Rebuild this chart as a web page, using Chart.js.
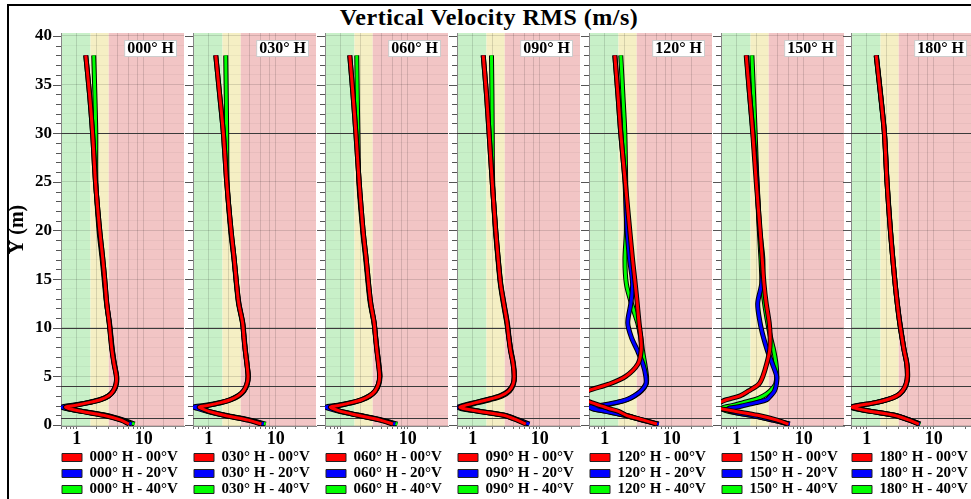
<!DOCTYPE html>
<html>
<head>
<meta charset="utf-8">
<script src="https://cdn.jsdelivr.net/npm/chart.js@4.4.1/dist/chart.umd.min.js"></script>
<style>
  body { margin: 0; background: #fff; width: 971px; height: 499px; overflow: hidden; position: relative; }
  #frame { position: absolute; left: 7px; top: 4px; width: 1000px; height: 540px; border: 2px solid #000; }
  #title { position: absolute; left: 0; top: 5px; width: 978px; text-align: center;
           font: bold 24px "Liberation Serif"; letter-spacing: 0.5px; line-height: 1; color: #000; }
  canvas { position: absolute; }
</style>
</head>
<body>
<div id="frame"></div>
<div id="title">Vertical Velocity RMS (m/s)</div>
<div id="panels"></div>
<script>
// headings and series names
const panelNames = ['000', '030', '060', '090', '120', '150', '180'];
const verticals = ['00', '20', '40'];
const seriesColors = ['#ff0000', '#0000ff', '#00ff00'];

// heights (m) where each curve was read
const yLevels = [0.1, 0.5, 1.0, 1.4, 1.7, 1.85, 2.0, 2.3, 2.6, 3.0, 3.5, 4.2, 5, 6.3, 7.7, 9, 10.5, 12.5, 14.5, 17, 20, 25, 30, 34, 38];

// ticks and reference values
const yTicks = [0, 1, 2, 3, 4, 5, 6, 7, 8, 9, 10, 11, 12, 13, 14, 15, 16, 17, 18, 19, 20,
                21, 22, 23, 24, 25, 26, 27, 28, 29, 30, 31, 32, 33, 34, 35, 36, 37, 38, 39, 40];
const xTicks = [0.6, 0.7, 0.8, 0.9, 1, 2, 3, 4, 5, 6, 7, 8, 9, 10, 20, 30];
const xGridAt = [1, 2, 4, 6, 8, 10, 20];
const xLabels = [1, 10];
const refLines = [0.7, 4, 10, 30];
const bandLimits = [1.6, 3];

// RMS values (m/s) - one array per heading / vertical angle
const h000_v00 = [6.0, 4.6, 2.5, 1.2, 0.75, 0.68, 0.93, 1.5, 2.25, 3.0, 3.5, 3.85, 3.9, 3.6, 3.35, 3.2, 3.05, 2.8, 2.65, 2.45, 2.2, 1.9, 1.72, 1.55, 1.36];
const h000_v20 = [6.6, 4.8, 2.6, 1.2, 0.7, 0.6, 0.82, 1.45, 2.2, 2.95, 3.5, 3.85, 3.92, 3.62, 3.38, 3.22, 3.05, 2.8, 2.65, 2.45, 2.2, 1.9, 1.72, 1.55, 1.36];
const h000_v40 = [7.3, 5.0, 2.7, 1.25, 0.72, 0.64, 0.88, 1.5, 2.3, 3.0, 3.55, 3.9, 3.95, 3.65, 3.4, 3.25, 3.08, 2.78, 2.6, 2.4, 2.15, 1.93, 1.92, 1.86, 1.79];

const h030_v00 = [6.1, 3.9, 1.7, 1.0, 0.78, 0.72, 0.95, 1.5, 2.1, 2.75, 3.3, 3.7, 3.86, 3.7, 3.5, 3.35, 3.2, 2.8, 2.6, 2.4, 2.15, 1.85, 1.65, 1.45, 1.27];
const h030_v20 = [6.6, 4.0, 1.7, 0.95, 0.68, 0.6, 0.85, 1.45, 2.05, 2.7, 3.3, 3.7, 3.86, 3.72, 3.52, 3.38, 3.22, 2.82, 2.6, 2.4, 2.15, 1.85, 1.65, 1.45, 1.27];
const h030_v40 = [7.1, 4.2, 1.8, 1.0, 0.78, 0.75, 0.95, 1.55, 2.15, 2.8, 3.35, 3.75, 3.9, 3.72, 3.5, 3.35, 3.18, 2.78, 2.58, 2.38, 2.12, 1.88, 1.85, 1.82, 1.79];

const h060_v00 = [6.0, 3.9, 1.8, 1.0, 0.75, 0.7, 0.92, 1.45, 2.05, 2.7, 3.25, 3.65, 3.8, 3.65, 3.45, 3.3, 3.15, 2.8, 2.6, 2.4, 2.15, 1.88, 1.68, 1.52, 1.36];
const h060_v20 = [6.5, 4.0, 1.8, 0.95, 0.66, 0.6, 0.82, 1.4, 2.0, 2.65, 3.25, 3.65, 3.82, 3.68, 3.48, 3.32, 3.15, 2.8, 2.6, 2.4, 2.15, 1.88, 1.68, 1.52, 1.36];
const h060_v40 = [7.0, 4.2, 1.9, 1.0, 0.75, 0.72, 0.92, 1.5, 2.1, 2.75, 3.3, 3.7, 3.85, 3.7, 3.48, 3.32, 3.13, 2.76, 2.56, 2.36, 2.12, 1.86, 1.8, 1.76, 1.73];

const h090_v00 = [6.2, 4.6, 2.9, 1.25, 0.72, 0.64, 0.75, 1.1, 1.65, 2.6, 3.45, 4.0, 4.15, 4.0, 3.65, 3.45, 3.25, 2.9, 2.6, 2.4, 2.2, 1.95, 1.75, 1.6, 1.43];
const h090_v20 = [7.0, 4.9, 3.0, 1.25, 0.66, 0.6, 0.7, 1.05, 1.6, 2.55, 3.4, 4.0, 4.15, 4.0, 3.68, 3.48, 3.28, 2.92, 2.62, 2.4, 2.2, 1.95, 1.75, 1.6, 1.43];
const h090_v40 = [6.6, 4.8, 2.9, 1.3, 0.75, 0.68, 0.8, 1.2, 1.8, 2.75, 3.55, 4.05, 4.2, 4.05, 3.7, 3.45, 3.22, 2.86, 2.58, 2.38, 2.18, 1.98, 1.95, 1.93, 1.9];

const h120_v00 = [6.0, 3.8, 2.1, 1.6, 1.14, 0.99, 0.85, 0.63, 0.5, 0.45, 0.55, 1.15, 2.05, 3.14, 3.5, 3.45, 3.25, 3.05, 2.85, 2.6, 2.36, 2.02, 1.73, 1.57, 1.41];
const h120_v20 = [6.4, 3.7, 2.0, 1.05, 0.64, 0.6, 0.85, 1.45, 2.1, 2.75, 3.45, 4.1, 4.1, 3.7, 3.05, 2.5, 2.2, 2.45, 2.6, 2.35, 2.15, 2.0, 1.73, 1.57, 1.41];
const h120_v40 = [6.3, 3.6, 2.0, 1.05, 0.66, 0.65, 0.95, 1.5, 2.15, 2.8, 3.5, 4.15, 4.2, 3.95, 3.65, 3.45, 3.1, 2.5, 2.1, 2.0, 2.1, 2.05, 1.99, 1.86, 1.73];

const h150_v00 = [5.9, 4.0, 2.05, 0.96, 0.55, 0.5, 0.48, 0.55, 0.7, 1.12, 1.5, 2.13, 2.45, 2.8, 3.1, 3.15, 3.05, 2.75, 2.55, 2.4, 2.23, 1.95, 1.73, 1.55, 1.38];
const h150_v20 = [6.2, 3.5, 1.65, 0.8, 0.75, 1.0, 1.25, 1.93, 2.8, 3.2, 3.65, 3.9, 3.95, 3.4, 2.85, 2.5, 2.23, 2.05, 2.35, 2.45, 2.2, 2.0, 1.75, 1.55, 1.4];
const h150_v40 = [6.0, 3.5, 1.65, 0.75, 0.6, 0.66, 0.85, 1.25, 1.85, 2.5, 3.15, 3.8, 3.95, 3.85, 3.55, 3.2, 2.9, 2.6, 2.4, 2.3, 2.17, 2.0, 1.88, 1.78, 1.68];

const h180_v00 = [6.0, 4.3, 2.55, 1.15, 0.7, 0.6, 0.75, 1.35, 2.0, 2.8, 3.4, 3.85, 4.03, 3.95, 3.6, 3.35, 3.1, 2.85, 2.65, 2.45, 2.25, 2.0, 1.83, 1.6, 1.38];
const h180_v20 = [6.2, 4.4, 2.6, 1.15, 0.66, 0.58, 0.72, 1.35, 2.0, 2.8, 3.42, 3.88, 4.05, 3.95, 3.6, 3.35, 3.1, 2.85, 2.65, 2.45, 2.25, 2.0, 1.83, 1.6, 1.38];
const h180_v40 = [6.3, 4.4, 2.6, 1.18, 0.7, 0.6, 0.76, 1.38, 2.05, 2.85, 3.45, 3.9, 4.08, 3.98, 3.62, 3.37, 3.12, 2.86, 2.66, 2.46, 2.26, 2.01, 1.84, 1.61, 1.39];

const panelSeries = [
    [h000_v00, h000_v20, h000_v40],
    [h030_v00, h030_v20, h030_v40],
    [h060_v00, h060_v20, h060_v40],
    [h090_v00, h090_v20, h090_v40],
    [h120_v00, h120_v20, h120_v40],
    [h150_v00, h150_v20, h150_v40],
    [h180_v00, h180_v20, h180_v40]
];

// left edge of each plot area on the page
const plotLefts = [61, 193, 325, 457, 589, 721, 851];
const FONT = 'Liberation Serif';
Chart.defaults.font.family = FONT;

// bands, reference lines, axis ticks and the heading box
const panelDecor = {
    id: 'panelDecor',
    beforeDraw(chart) {
        const {ctx, chartArea: a, scales: {x}} = chart;
        const b1 = x.getPixelForValue(bandLimits[0]);
        const b2 = x.getPixelForValue(bandLimits[1]);
        ctx.save();
        ctx.fillStyle = '#c8f0c8';
        ctx.fillRect(a.left, a.top, b1 - a.left, a.height);
        ctx.fillStyle = '#f5efc4';
        ctx.fillRect(b1, a.top, b2 - b1, a.height);
        ctx.fillStyle = '#f2c5c5';
        ctx.fillRect(b2, a.top, a.right - b2, a.height);
        ctx.restore();
    },
    beforeDatasetsDraw(chart) {
        const {ctx, chartArea: a, scales: {y}} = chart;
        ctx.save();
        ctx.strokeStyle = '#3a3a3a';
        ctx.lineWidth = 1;
        refLines.forEach(v => {
            const py = Math.round(y.getPixelForValue(v)) + 0.5;
            ctx.beginPath();
            ctx.moveTo(a.left, py);
            ctx.lineTo(a.right, py);
            ctx.stroke();
        });
        // small ticks every metre, longer ones every 5 m
        ctx.strokeStyle = '#555';
        yTicks.forEach(v => {
            const py = Math.round(y.getPixelForValue(v)) + 0.5;
            const len = v % 5 === 0 ? 8 : 5;
            ctx.beginPath();
            ctx.moveTo(a.left - len, py);
            ctx.lineTo(a.left, py);
            ctx.stroke();
        });
        ctx.restore();
    },
    afterDatasetsDraw(chart) {
        const {ctx, chartArea: a} = chart;
        const text = chart.options.plugins.panelDecor.label;
        ctx.save();
        ctx.font = 'bold 16px "' + FONT + '"';
        const w = ctx.measureText(text).width + 6;
        const bx = a.right - 7 - w, by = a.top + 7;
        ctx.fillStyle = '#fff';
        ctx.fillRect(bx, by, w, 17);
        ctx.strokeStyle = 'rgba(0,0,0,0.2)';
        ctx.strokeRect(bx + 0.5, by + 0.5, w - 1, 16);
        ctx.fillStyle = '#000';
        ctx.textBaseline = 'middle';
        ctx.fillText(text, bx + 3, by + 9);
        ctx.restore();
    }
};

const defaultLabels = Chart.defaults.plugins.legend.labels.generateLabels;

panelNames.forEach((name, i) => {
    const yw = i === 0 ? 55 : 9;
    const canvas = document.createElement('canvas');
    canvas.width = yw + 123 + 2;
    canvas.height = 499;
    canvas.style.left = (plotLefts[i] - yw) + 'px';
    canvas.style.top = '8px';
    document.getElementById('panels').appendChild(canvas);

    // first dataset is drawn on top, so red (00°V) comes first
    const datasets = [];
    panelSeries[i].forEach((xs, s) => {
        const pts = yLevels.map((yv, k) => ({x: xs[k], y: yv}));
        datasets.push({
            label: name + '° H - ' + verticals[s] + '°V',
            data: pts,
            borderColor: seriesColors[s],
            backgroundColor: seriesColors[s],
            borderWidth: 3,
            showLine: true,
            pointRadius: 0,
            tension: 0.3,
            clip: 0
        });
        datasets.push({
            label: '',
            data: pts,
            borderColor: '#000',
            borderWidth: 5,
            showLine: true,
            pointRadius: 0,
            tension: 0.3,
            clip: 0
        });
    });

    new Chart(canvas, {
        type: 'scatter',
        data: {datasets: datasets},
        options: {
            responsive: false,
            animation: false,
            events: [],
            layout: {padding: {top: 25, right: 2, left: 0, bottom: 0}},
            scales: {
                x: {
                    type: 'logarithmic',
                    min: 0.58,
                    max: 40,
                    afterBuildTicks: s => { s.ticks = xTicks.map(v => ({value: v})); },
                    afterFit: s => { s.height = 23; },
                    ticks: {
                        autoSkip: false,
                        maxRotation: 0,
                        padding: 0,
                        color: '#000',
                        font: {size: 18, weight: 'bold'},
                        callback: v => xLabels.includes(v) ? String(v) : ''
                    },
                    grid: {
                        color: c => xGridAt.includes(c.tick.value) ? 'rgba(0,0,0,0.13)' : 'rgba(0,0,0,0)',
                        tickLength: 3,
                        tickColor: '#666'
                    },
                    border: {color: '#888'}
                },
                y: {
                    type: 'linear',
                    min: -0.1,
                    max: 40.3,
                    afterBuildTicks: s => { s.ticks = yTicks.map(v => ({value: v})); },
                    afterFit: s => { s.width = yw; },
                    ticks: {
                        autoSkip: false,
                        padding: 9,
                        color: '#000',
                        font: {size: 17, weight: 'bold'},
                        callback: v => (i === 0 && v % 5 === 0) ? String(v) : ''
                    },
                    grid: {
                        drawTicks: false,
                        color: c => c.tick.value % 5 === 0 ? 'rgba(0,0,0,0.13)' : 'rgba(0,0,0,0.04)'
                    },
                    border: {color: '#888'},
                    title: {
                        display: i === 0,
                        text: 'Y (m)',
                        color: '#000',
                        padding: 0,
                        font: {size: 20, weight: 'bold'}
                    }
                }
            },
            plugins: {
                tooltip: {enabled: false},
                panelDecor: {label: name + '° H'},
                legend: {
                    position: 'bottom',
                    align: 'start',
                    fullSize: false,
                    labels: {
                        boxWidth: 20,
                        boxHeight: 8,
                        padding: 1,
                        color: '#000',
                        font: {size: 15, weight: 'bold'},
                        generateLabels: chart => defaultLabels(chart)
                            .filter(item => item.text !== '')
                            .map(item => Object.assign(item, {strokeStyle: '#222', lineWidth: 1}))
                    }
                }
            }
        },
        plugins: [panelDecor]
    });
});
</script>
</body>
</html>
